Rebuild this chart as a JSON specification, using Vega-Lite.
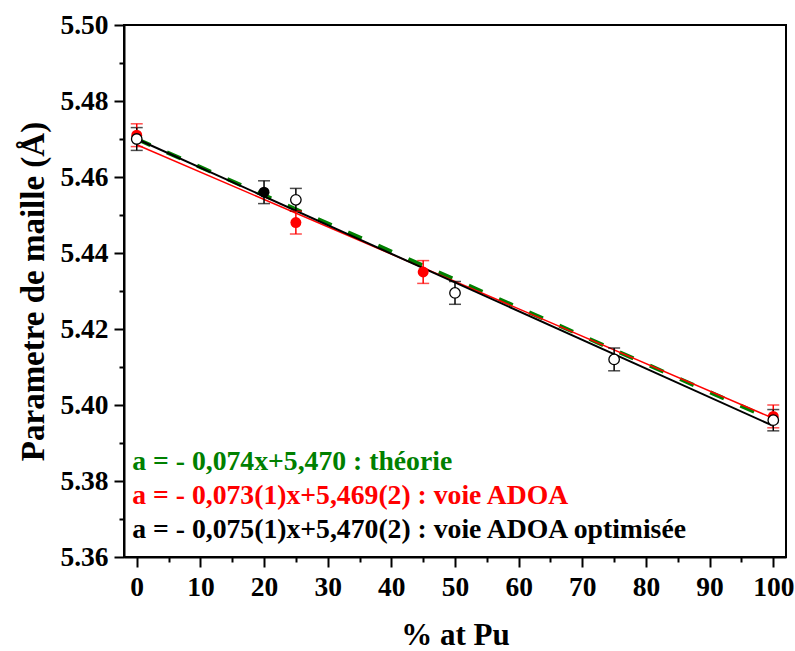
{
  "$schema": "https://vega.github.io/schema/vega-lite/v6.json",
  "width": 662,
  "height": 532,
  "autosize": {"type": "none"},
  "padding": {"left": 124, "top": 25, "right": 9, "bottom": 94},
  "background": "white",
  "config": {
    "view": {"stroke": "black", "strokeWidth": 2},
    "axis": {
      "grid": false,
      "labelFont": "Liberation Serif",
      "labelFontSize": 27.5,
      "labelFontWeight": "bold",
      "labelColor": "black",
      "titleFont": "Liberation Serif",
      "titleFontWeight": "bold",
      "titleColor": "black",
      "domainColor": "black",
      "domainWidth": 2,
      "tickColor": "black",
      "tickWidth": 2
    }
  },
  "datasets": {
    "lines": [
      {"series": "theorie", "x": 0, "y": 5.470},
      {"series": "theorie", "x": 100, "y": 5.396},
      {"series": "adoa", "x": 0, "y": 5.4685},
      {"series": "adoa", "x": 100, "y": 5.3965},
      {"series": "opt", "x": 0, "y": 5.470},
      {"series": "opt", "x": 100, "y": 5.3945}
    ],
    "points": [
      {"series": "adoa", "x": 0, "y": 5.471, "lo": 5.468, "hi": 5.474},
      {"series": "adoa", "x": 25, "y": 5.448, "lo": 5.445, "hi": 5.451},
      {"series": "adoa", "x": 45, "y": 5.435, "lo": 5.432, "hi": 5.438},
      {"series": "adoa", "x": 100, "y": 5.397, "lo": 5.394, "hi": 5.400},
      {"series": "filled", "x": 20, "y": 5.456, "lo": 5.453, "hi": 5.459},
      {"series": "opt", "x": 0, "y": 5.470, "lo": 5.467, "hi": 5.473},
      {"series": "opt", "x": 25, "y": 5.454, "lo": 5.451, "hi": 5.457},
      {"series": "opt", "x": 50, "y": 5.4295, "lo": 5.4265, "hi": 5.4325},
      {"series": "opt", "x": 75, "y": 5.412, "lo": 5.409, "hi": 5.415},
      {"series": "opt", "x": 100, "y": 5.396, "lo": 5.3932, "hi": 5.3988}
    ],
    "labels": [
      {"series": "theorie", "x": -0.7, "y": 5.3829, "text": "a = - 0,074x+5,470 : théorie"},
      {"series": "adoa", "x": -0.7, "y": 5.3739, "text": "a = - 0,073(1)x+5,469(2) : voie ADOA"},
      {"series": "opt", "x": -0.7, "y": 5.3650, "text": "a = - 0,075(1)x+5,470(2) : voie ADOA optimisée"}
    ]
  },
  "encoding": {
    "x": {
      "field": "x", "type": "quantitative",
      "scale": {"domain": [-2, 102], "nice": false, "zero": false},
      "axis": {
        "title": "% at Pu",
        "titleFontSize": 31,
        "values": [0, 5, 10, 15, 20, 25, 30, 35, 40, 45, 50, 55, 60, 65, 70, 75, 80, 85, 90, 95, 100],
        "labelExpr": "datum.value % 10 === 0 ? datum.label : ''",
        "tickSize": {"condition": {"test": "datum.value % 10 !== 0", "value": 5}, "value": 10},
        "labelPadding": 6,
        "titlePadding": 20
      }
    },
    "y": {
      "field": "y", "type": "quantitative",
      "scale": {"domain": [5.36, 5.50], "nice": false, "zero": false},
      "axis": {
        "title": "Parametre de maille (Å)",
        "titleFontSize": 33,
        "values": [5.36, 5.37, 5.38, 5.39, 5.40, 5.41, 5.42, 5.43, 5.44, 5.45, 5.46, 5.47, 5.48, 5.49, 5.50],
        "format": ".2f",
        "labelExpr": "round(datum.value * 100) % 2 === 0 ? datum.label : ''",
        "tickSize": {"condition": {"test": "round(datum.value * 100) % 2 !== 0", "value": 5}, "value": 10},
        "labelPadding": 6,
        "titlePadding": 9
      }
    }
  },
  "layer": [
    {
      "data": {"name": "lines"},
      "transform": [{"filter": "datum.series === 'theorie'"}],
      "mark": {"type": "line", "color": "#008000", "strokeWidth": 4, "strokeDash": [15, 18]},
      "encoding": {}
    },
    {
      "data": {"name": "lines"},
      "transform": [{"filter": "datum.series === 'adoa'"}],
      "mark": {"type": "line", "color": "#FF0000", "strokeWidth": 1.5},
      "encoding": {}
    },
    {
      "data": {"name": "lines"},
      "transform": [{"filter": "datum.series === 'opt'"}],
      "mark": {"type": "line", "color": "black", "strokeWidth": 2},
      "encoding": {}
    },
    {
      "data": {"name": "points"},
      "mark": {"type": "errorbar", "ticks": {"size": 12, "thickness": 1.5}, "rule": {"strokeWidth": 1.5}},
      "encoding": {
        "y": {"field": "lo", "type": "quantitative"},
        "y2": {"field": "hi"},
        "color": {"field": "series", "type": "nominal", "scale": {"domain": ["adoa", "filled", "opt"], "range": ["#FF0000", "black", "black"]}, "legend": null}
      }
    },
    {
      "data": {"name": "points"},
      "transform": [{"filter": "datum.series !== 'opt'"}],
      "mark": {"type": "point", "shape": "circle", "filled": true, "size": 120, "opacity": 1},
      "encoding": {
        "color": {"field": "series", "type": "nominal", "scale": {"domain": ["adoa", "filled", "opt"], "range": ["#FF0000", "black", "black"]}, "legend": null}
      }
    },
    {
      "data": {"name": "points"},
      "transform": [{"filter": "datum.series === 'opt'"}],
      "mark": {"type": "point", "shape": "circle", "filled": true, "size": 110, "fill": "white", "stroke": "black", "strokeWidth": 1.3, "opacity": 1},
      "encoding": {}
    },
    {
      "data": {"name": "labels"},
      "mark": {"type": "text", "align": "left", "baseline": "alphabetic", "font": "Liberation Serif", "fontSize": 27.7, "fontWeight": "bold"},
      "encoding": {
        "text": {"field": "text"},
        "color": {"field": "series", "type": "nominal", "scale": {"domain": ["theorie", "adoa", "opt"], "range": ["#008000", "#FF0000", "black"]}, "legend": null}
      }
    }
  ],
  "resolve": {"scale": {"color": "independent"}}
}
